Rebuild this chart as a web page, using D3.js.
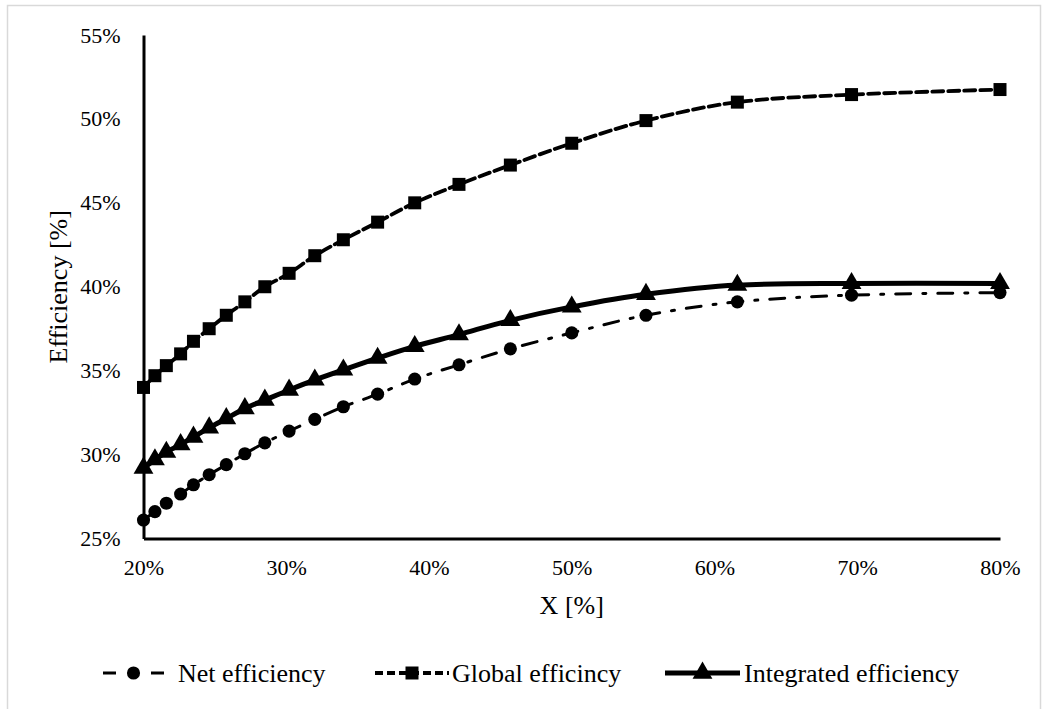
<!DOCTYPE html>
<html>
<head>
<meta charset="utf-8">
<script src="https://cdn.jsdelivr.net/npm/d3@7"></script>
<style>
  html, body { margin: 0; padding: 0; background: #fff; }
  svg { display: block; }
  text { font-family: "Liberation Serif", "Times New Roman", serif; fill: #000; }
</style>
</head>
<body>
<svg id="chart" width="1043" height="709"></svg>
<script>
// ---- data ----
const xValues = [20, 20.8, 21.6, 22.6, 23.5, 24.6, 25.8, 27.1, 28.5, 30.2, 32.0, 34.0, 36.4, 39.0, 42.1, 45.7, 50.0, 55.2, 61.6, 69.6, 80.0];
const netEfficiency = [26.1, 26.6, 27.1, 27.65, 28.2, 28.8, 29.4, 30.05, 30.7, 31.4, 32.1, 32.85, 33.6, 34.5, 35.35, 36.3, 37.25, 38.3, 39.1, 39.5, 39.65];
const globalEfficiency = [34.0, 34.7, 35.3, 36.0, 36.75, 37.5, 38.3, 39.1, 40.0, 40.8, 41.85, 42.8, 43.85, 45.0, 46.1, 47.25, 48.55, 49.9, 51.0, 51.45, 51.75];
const integratedEfficiency = [29.2, 29.7, 30.15, 30.6, 31.05, 31.6, 32.15, 32.75, 33.25, 33.85, 34.45, 35.05, 35.75, 36.45, 37.15, 38.0, 38.8, 39.55, 40.1, 40.2, 40.2];
const xTicks = [20, 30, 40, 50, 60, 70, 80];
const yTicks = [25, 30, 35, 40, 45, 50, 55];
const seriesNames = ["Net efficiency", "Global efficincy", "Integrated efficiency"];
const xTitle = "X [%]";
const yTitle = "Efficiency [%]";

// ---- layout ----
const svg = d3.select("#chart");
const plot = { left: 143.5, right: 1000, top: 35, bottom: 538.5 };

svg.append("rect").attr("x", 7.5).attr("y", 5.5).attr("width", 1033).attr("height", 720)
  .attr("fill", "#fff").attr("stroke", "#d9d9d9").attr("stroke-width", 1.5);

const x = d3.scaleLinear().domain([20, 80]).range([plot.left, plot.right]);
const y = d3.scaleLinear().domain([25, 55]).range([plot.bottom, plot.top]);

// axes
const xAxis = d3.axisBottom(x).tickValues(xTicks).tickSize(0).tickPadding(21).tickFormat(d => d + "%");
const yAxis = d3.axisLeft(y).tickValues(yTicks).tickSize(0).tickPadding(23).tickFormat(d => d + "%");

const gx = svg.append("g").attr("transform", `translate(0,${plot.bottom})`).call(xAxis);
const gy = svg.append("g").attr("transform", `translate(${plot.left},0)`).call(yAxis);
[gx, gy].forEach(g => {
  g.select(".domain").attr("stroke", "#000").attr("stroke-width", 3);
  g.selectAll("text").style("font-family", "Liberation Serif").style("font-size", "22px").attr("fill", "#000");
});
gx.selectAll("text").attr("dy", "0.71em");

// axis titles
svg.append("text").attr("x", (plot.left + plot.right) / 2).attr("y", 614)
  .attr("text-anchor", "middle").style("font-size", "26px").text(xTitle);
svg.append("text").attr("transform", `translate(58,${(plot.top + plot.bottom) / 2}) rotate(-90)`)
  .attr("text-anchor", "middle").attr("dy", "0.33em").style("font-size", "26px").text(yTitle);

const curve = d3.curveCatmullRom.alpha(0);

const series = [
  { name: seriesNames[0], values: netEfficiency, dash: "15,12,3,12", legendDash: "13,35,13", width: 3, marker: "circle" },
  { name: seriesNames[1], values: globalEfficiency, dash: "11,5", legendDash: "8,4", width: 3.8, marker: "square" },
  { name: seriesNames[2], values: integratedEfficiency, dash: null, legendDash: null, width: 5, marker: "triangle" }
];

const symbolFor = m => {
  if (m === "circle") return d3.symbol(d3.symbolCircle, 135)();
  if (m === "square") return d3.symbol(d3.symbolSquare, 169)();
  return d3.symbol(d3.symbolTriangle, 170)();
};

series.forEach(s => {
  const pts = xValues.map((xv, i) => [xv, s.values[i]]);
  const line = d3.line().x(d => x(d[0])).y(d => y(d[1])).curve(curve);
  svg.append("path").datum(pts).attr("d", line)
    .attr("fill", "none").attr("stroke", "#000").attr("stroke-width", s.width)
    .attr("stroke-dasharray", s.dash).attr("stroke-linecap", s.dash ? "round" : "butt");
  svg.append("g").selectAll("path").data(pts).join("path")
    .attr("d", symbolFor(s.marker))
    .attr("transform", d => `translate(${x(d[0])},${y(d[1])})`)
    .attr("fill", "#000");
});

// legend
const legendY = 673;
const legendItems = [
  { x0: 103, x1: 164, tx: 178 },
  { x0: 375, x1: 449, tx: 452 },
  { x0: 665, x1: 740, tx: 744 }
];
series.forEach((s, i) => {
  const li = legendItems[i];
  svg.append("line").attr("x1", li.x0).attr("x2", li.x1).attr("y1", legendY).attr("y2", legendY)
    .attr("stroke", "#000").attr("stroke-width", s.width).attr("stroke-dasharray", s.legendDash);
  svg.append("path").attr("d", symbolFor(s.marker))
    .attr("transform", `translate(${(li.x0 + li.x1) / 2},${legendY})`).attr("fill", "#000");
  svg.append("text").attr("x", li.tx).attr("y", legendY).attr("dy", "0.33em")
    .style("font-size", "26px").text(s.name);
});
</script>
</body>
</html>
